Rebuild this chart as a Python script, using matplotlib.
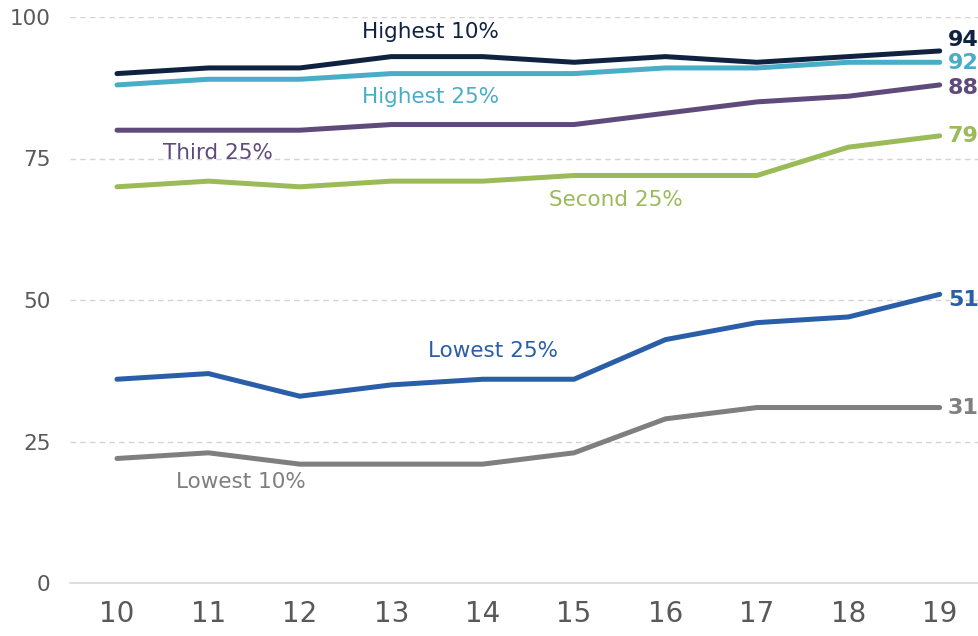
import matplotlib
matplotlib.use("Agg")
import matplotlib.pyplot as plt

# Data
years = [10, 11, 12, 13, 14, 15, 16, 17, 18, 19]
series_names = ["Highest 10%", "Highest 25%", "Third 25%", "Second 25%", "Lowest 25%", "Lowest 10%"]
highest_10 = [90, 91, 91, 93, 93, 92, 93, 92, 93, 94]
highest_25 = [88, 89, 89, 90, 90, 90, 91, 91, 92, 92]
third_25 = [80, 80, 80, 81, 81, 81, 83, 85, 86, 88]
second_25 = [70, 71, 70, 71, 71, 72, 72, 72, 77, 79]
lowest_25 = [36, 37, 33, 35, 36, 36, 43, 46, 47, 51]
lowest_10 = [22, 23, 21, 21, 21, 23, 29, 31, 31, 31]
y_ticks = [0, 25, 50, 75, 100]

all_values = [highest_10, highest_25, third_25, second_25, lowest_25, lowest_10]
colors = ["#0f2341", "#4aadc7", "#5f4a7c", "#9bbb59", "#2a5ea9", "#7f7f7f"]
# label anchor positions (x, y in data units)
label_pos = [(13.43, 97.3), (13.43, 85.9), (11.10, 76.0),
             (15.46, 67.7), (14.11, 41.0), (11.35, 17.8)]
# vertical nudge for end labels so they don't collide
end_nudge = [2.0, -0.2, -0.5, 0.0, -1.0, 0.0]

fig = plt.figure(figsize=(9.79, 6.36), dpi=100)
ax = fig.add_axes([70 / 979, 53 / 636, 909 / 979, 566 / 636])

for name, vals, col, (lx, ly), dy in zip(series_names, all_values, colors, label_pos, end_nudge):
    ax.plot(years, vals, color=col, linewidth=3.6, solid_capstyle="round",
            solid_joinstyle="miter", clip_on=False, zorder=3)
    ax.text(lx, ly, name, color=col, fontsize=15.5, ha="center", va="center")
    ax.text(years[-1] + 0.09, vals[-1] + dy, str(vals[-1]), color=col, fontsize=16,
            fontweight="bold", ha="left", va="center", clip_on=False)

ax.set_xlim(9.486, 19.43)
ax.set_ylim(0, 100)
ax.set_yticks(y_ticks)
ax.set_xticks(years)
ax.set_xticklabels([str(y) for y in years])
ax.tick_params(axis="y", length=0, labelsize=15.5, labelcolor="#595959", pad=14)
ax.tick_params(axis="x", length=0, labelsize=20, labelcolor="#595959", pad=12)

for t in y_ticks[1:]:
    ax.axhline(t, color="#d4d4d4", linewidth=1.0, linestyle=(0, (4, 3)), zorder=1)

for s in ["top", "right", "left"]:
    ax.spines[s].set_visible(False)
ax.spines["bottom"].set_color("#d9d9d9")
ax.spines["bottom"].set_linewidth(1.2)

fig.savefig("out.png", dpi=100)
